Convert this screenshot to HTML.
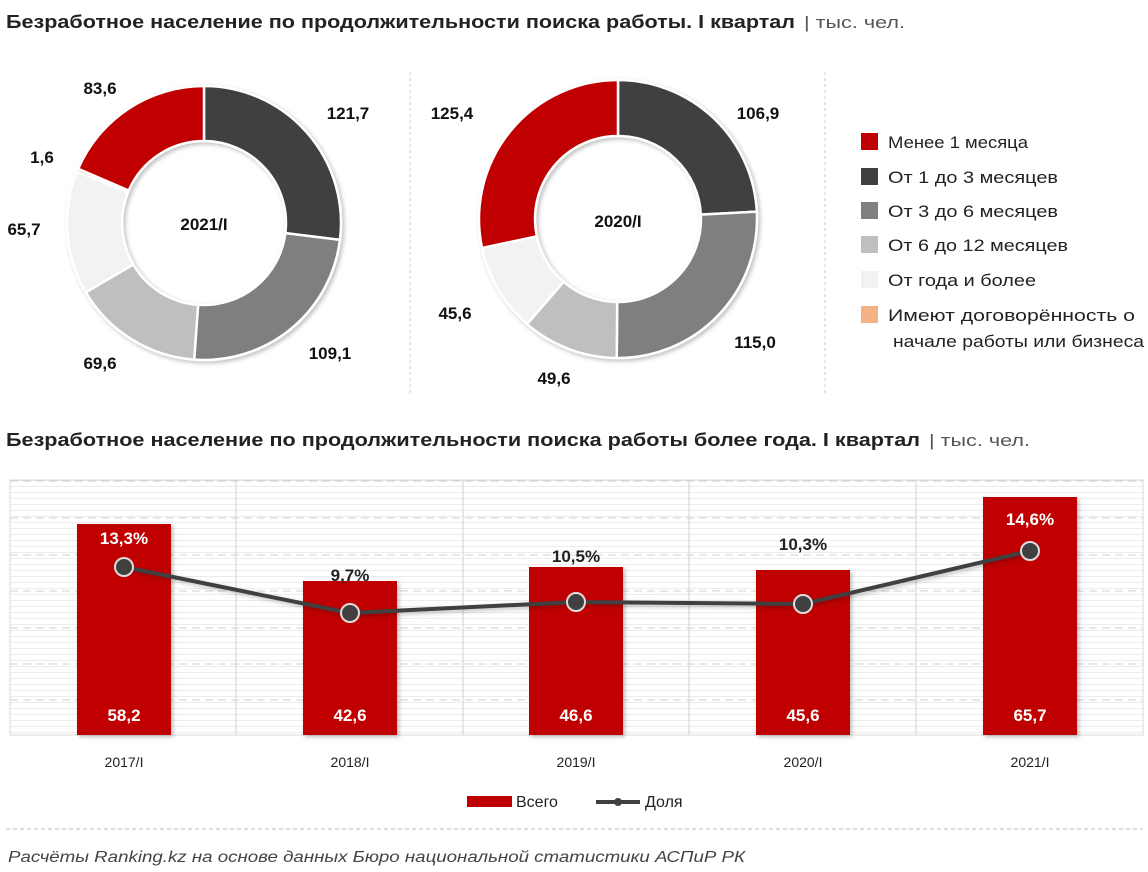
<!DOCTYPE html>
<html><head><meta charset="utf-8"><style>
body{margin:0;width:1148px;height:872px;background:#fff;font-family:"Liberation Sans",sans-serif;position:relative;overflow:hidden}
</style></head><body>
<svg width="1148" height="872" style="position:absolute;left:0;top:0" font-family="Liberation Sans, sans-serif">
<defs>
<pattern id="hl" width="10" height="6" patternUnits="userSpaceOnUse"><line x1="0" y1="0.5" x2="10" y2="0.5" stroke="#ececec" stroke-width="1"/></pattern>
<filter id="sh"><feDropShadow dx="2" dy="2" stdDeviation="2" flood-opacity="0.25"/></filter>
</defs>
<text x="6" y="28" font-size="18" font-weight="bold" fill="#222" textLength="789" lengthAdjust="spacingAndGlyphs">Безработное население по продолжительности поиска работы. I квартал</text>
<text x="804" y="28" font-size="17" fill="#555" textLength="101" lengthAdjust="spacingAndGlyphs">| тыс. чел.</text>
<line x1="410" y1="72" x2="410" y2="395" stroke="#ccc" stroke-dasharray="3,3"/>
<line x1="825" y1="72" x2="825" y2="395" stroke="#ccc" stroke-dasharray="3,3"/>
<g id="d1" filter="url(#sh)"></g>
<g id="d2" filter="url(#sh)"></g>
<g font-size="17" font-weight="bold" fill="#111" text-anchor="middle">
<text x="204" y="230">2021/I</text>
<text x="618" y="227">2020/I</text>
<text x="100" y="94">83,6</text><text x="348" y="119">121,7</text><text x="42" y="163">1,6</text><text x="24" y="235">65,7</text><text x="100" y="369">69,6</text><text x="330" y="359">109,1</text>
<text x="452" y="119">125,4</text><text x="758" y="119">106,9</text><text x="455" y="319">45,6</text><text x="554" y="384">49,6</text><text x="755" y="348">115,0</text>
</g>
<g font-size="17" fill="#222" lengthAdjust="spacingAndGlyphs">
<rect x="861" y="133" width="17" height="17" fill="#c00000"/><text x="888" y="148" textLength="140" lengthAdjust="spacingAndGlyphs">Менее 1 месяца</text>
<rect x="861" y="168" width="17" height="17" fill="#404040"/><text x="888" y="183" textLength="170" lengthAdjust="spacingAndGlyphs">От 1 до 3 месяцев</text>
<rect x="861" y="202" width="17" height="17" fill="#7f7f7f"/><text x="888" y="217" textLength="170" lengthAdjust="spacingAndGlyphs">От 3 до 6 месяцев</text>
<rect x="861" y="236" width="17" height="17" fill="#bfbfbf"/><text x="888" y="251" textLength="180" lengthAdjust="spacingAndGlyphs">От 6 до 12 месяцев</text>
<rect x="861" y="271" width="17" height="17" fill="#f2f2f2"/><text x="888" y="286" textLength="148" lengthAdjust="spacingAndGlyphs">От года и более</text>
<rect x="861" y="306" width="17" height="17" fill="#f4b183"/><text x="888" y="321" textLength="247" lengthAdjust="spacingAndGlyphs">Имеют договорённость о</text>
<text x="893" y="347" textLength="251" lengthAdjust="spacingAndGlyphs">начале работы или бизнеса</text>
</g>
<text x="6" y="446" font-size="18" font-weight="bold" fill="#222" textLength="914" lengthAdjust="spacingAndGlyphs">Безработное население по продолжительности поиска работы более года. I квартал</text>
<text x="929" y="446" font-size="17" fill="#555" textLength="101" lengthAdjust="spacingAndGlyphs">| тыс. чел.</text>
<rect x="10" y="480" width="1133" height="255" fill="url(#hl)" stroke="#d9d9d9"/>
<g stroke="#d0d0d0" stroke-dasharray="8,5">
<line x1="10" y1="481" x2="1143" y2="481"/><line x1="10" y1="518" x2="1143" y2="518"/><line x1="10" y1="555" x2="1143" y2="555"/><line x1="10" y1="591" x2="1143" y2="591"/><line x1="10" y1="628" x2="1143" y2="628"/><line x1="10" y1="664" x2="1143" y2="664"/><line x1="10" y1="700" x2="1143" y2="700"/>
</g>
<g stroke="#d0d0d0"><line x1="236" y1="480" x2="236" y2="735"/><line x1="463" y1="480" x2="463" y2="735"/><line x1="689" y1="480" x2="689" y2="735"/><line x1="916" y1="480" x2="916" y2="735"/></g>
<g fill="#c00000" filter="url(#sh)">
<rect x="77" y="524" width="94" height="211"/><rect x="303" y="581" width="94" height="154"/><rect x="529" y="567" width="94" height="168"/><rect x="756" y="570" width="94" height="165"/><rect x="983" y="497" width="94" height="238"/>
</g>
<polyline points="124,567 350,613 576,602 803,604 1030,551" fill="none" stroke="#404040" stroke-width="4" filter="url(#sh)"/>
<g fill="#404040" stroke="#ddd" stroke-width="2">
<circle cx="124" cy="567" r="9"/><circle cx="350" cy="613" r="9"/><circle cx="576" cy="602" r="9"/><circle cx="803" cy="604" r="9"/><circle cx="1030" cy="551" r="9"/>
</g>
<g font-size="17" font-weight="bold" text-anchor="middle">
<text x="124" y="544" fill="#fff">13,3%</text><text x="350" y="581" fill="#222">9,7%</text><text x="576" y="562" fill="#222">10,5%</text><text x="803" y="550" fill="#222">10,3%</text><text x="1030" y="525" fill="#fff">14,6%</text>
<g fill="#fff"><text x="124" y="721">58,2</text><text x="350" y="721">42,6</text><text x="576" y="721">46,6</text><text x="803" y="721">45,6</text><text x="1030" y="721">65,7</text></g>
</g>
<g font-size="14" fill="#222" text-anchor="middle">
<text x="124" y="767">2017/I</text><text x="350" y="767">2018/I</text><text x="576" y="767">2019/I</text><text x="803" y="767">2020/I</text><text x="1030" y="767">2021/I</text>
</g>
<rect x="467" y="796" width="45" height="11" fill="#c00000"/>
<text x="516" y="807" font-size="16" fill="#222">Всего</text>
<line x1="596" y1="802" x2="640" y2="802" stroke="#404040" stroke-width="4"/><circle cx="618" cy="802" r="4" fill="#404040"/>
<text x="645" y="807" font-size="16" fill="#222">Доля</text>
<line x1="6" y1="829" x2="1143" y2="829" stroke="#bbb" stroke-dasharray="4,3"/>
<text x="8" y="862" font-size="16" font-style="italic" fill="#444" textLength="737" lengthAdjust="spacingAndGlyphs">Расчёты Ranking.kz на основе данных  Бюро национальной  статистики АСПиР РК</text>
</svg>
<script>
function donut(id,cx,cy,R,r,vals,cols){
 var t=vals.reduce((a,b)=>a+b,0),a=0,g=document.getElementById(id),s="";
 vals.forEach(function(v,i){
  var a0=a/t*2*Math.PI,a1=(a+v)/t*2*Math.PI;a+=v;
  var p=(ang,rad)=>[cx+rad*Math.sin(ang),cy-rad*Math.cos(ang)];
  var l=(a1-a0)>Math.PI?1:0,A=p(a0,R),B=p(a1,R),C=p(a1,r),D=p(a0,r);
  s+='<path d="M'+A+'A'+R+','+R+' 0 '+l+' 1 '+B+'L'+C+'A'+r+','+r+' 0 '+l+' 0 '+D+'Z" fill="'+cols[i]+'" stroke="#fff" stroke-width="2.5"/>';
 });
 g.innerHTML=s;
}
donut("d1",204,223,137,82,[121.7,109.1,69.6,65.7,1.6,83.6],["#404040","#7f7f7f","#bfbfbf","#f2f2f2","#f4b183","#c00000"]);
donut("d2",618,219,139,83,[106.9,115.0,49.6,45.6,125.4],["#404040","#7f7f7f","#bfbfbf","#f2f2f2","#c00000"]);
</script>
</body></html>
